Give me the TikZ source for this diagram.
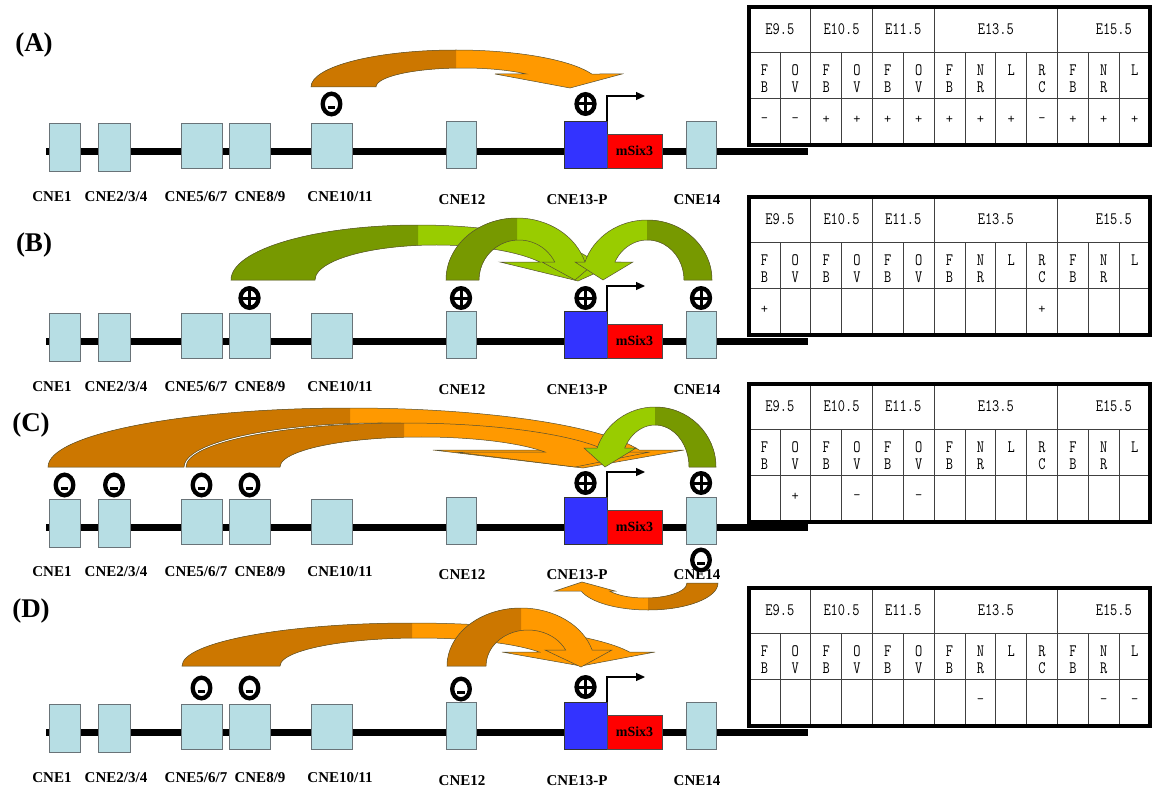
\documentclass[tikz,border=0pt]{standalone}
\usepackage{fontspec}
\usepackage{graphicx}
\setmainfont{Liberation Serif}
\usetikzlibrary{arrows.meta}

\definecolor{cneblue}{RGB}{183,222,228}
\definecolor{cneedge}{RGB}{105,115,120}
\definecolor{promblue}{RGB}{51,51,255}
\definecolor{genered}{RGB}{255,0,0}
\definecolor{brdark}{RGB}{204,119,0}
\definecolor{brlight}{RGB}{255,153,0}
\definecolor{grdark}{RGB}{119,153,0}
\definecolor{grlight}{RGB}{153,204,0}
\definecolor{arrowedge}{RGB}{85,80,50}

\newcommand\tstretch[1]{\scalebox{1}[1.25]{#1}}

\tikzset{
  cnebox/.style={draw=cneedge, fill=cneblue, line width=0.8pt, inner sep=0pt, outer sep=0pt},
  promoter/.style={draw=black!80, fill=promblue, line width=0.6pt, inner sep=0pt, outer sep=0pt},
  gene/.style={draw=black!70, fill=genered, line width=0.6pt, inner sep=0pt, outer sep=0pt,
    font=\bfseries\fontsize{14}{14}\selectfont},
  chrom/.style={line width=7pt},
  cnelabel/.style={font=\bfseries\fontsize{15}{15}\selectfont, inner sep=0pt},
  panel/.style={font=\bfseries\fontsize{27}{27}\selectfont, inner sep=0pt},
  tabtext/.style={font=\ttfamily\fontsize{14}{14}\selectfont, inner sep=0pt},
  tabouter/.style={line width=3.5pt},
  tabinner/.style={line width=0.7pt, draw=black!75},
  tss/.style={line width=1.2pt, -{Triangle[length=9pt,width=8pt]}},
  signring/.style={line width=4.3pt},
  arrowline/.style={draw=arrowedge, line width=0.5pt},
}

% curved block arrow (local frame: base centre at origin, y up, head towards +x)
\pgfkeys{/carr/.cd, a/.store in=\cA, b/.store in=\cB, ci/.store in=\cCi, ai/.store in=\cAi,
  bi/.store in=\cBi, h/.store in=\cH, bl/.store in=\cBl, br/.store in=\cBr,
  tx/.store in=\cTx, ty/.store in=\cTy, split/.store in=\cSp,
  dark/.store in=\cDark, light/.store in=\cLight}
\newcommand\curvedarrow[2]{%
  \begingroup
  \pgfkeys{/carr/.cd, split=0, ty=0, #2}%
  \pgfmathsetmacro\cTo{asin(\cH/\cB)}%
  \pgfmathsetmacro\cTi{asin(\cH/\cBi)}%
  \pgfmathsetmacro\cXo{\cA*cos(\cTo)}%
  \pgfmathsetmacro\cXi{\cCi+\cAi*cos(\cTi)}%
  \def\cShape{(-\cA,0) arc[start angle=180,end angle=\cTo,x radius=\cA,y radius=\cB]
    -- (\cBr,\cH) -- (\cTx,\cTy) -- (\cBl,\cH) -- (\cXi,\cH)
    arc[start angle=\cTi,end angle=180,x radius=\cAi,y radius=\cBi] -- cycle}%
  \begin{scope}[#1]
    \fill[\cLight] \cShape;
    \begin{scope}
      \clip (-\cA-20,-40) rectangle (\cSp,\cB+20);
      \fill[\cDark] \cShape;
    \end{scope}
    \draw[arrowline] \cShape;
  \end{scope}
  \endgroup}

% rectangular element as a named node
\newcommand\elem[7]{%
  \pgfmathsetmacro\elW{(#3)-(#2)}\pgfmathsetmacro\elH{(#5)-(#4)}%
  \pgfmathsetmacro\elX{((#2)+(#3))/2}\pgfmathsetmacro\elY{((#4)+(#5))/2}%
  \node[#6, minimum width=\elW pt, minimum height=\elH pt] (#1) at (\elX,\elY) {#7};}

\newcommand\plussign[2]{%
  \draw[signring] (#1,#2) ellipse[x radius=9, y radius=9.8];
  \draw[line width=3pt] (#1,#2-8.5) -- (#1,#2+8.5) (#1-7.5,#2) -- (#1+7.5,#2);}
\newcommand\minussign[2]{%
  \draw[signring] (#1,#2) ellipse[x radius=8.8, y radius=10.3];
  \draw[line width=3.2pt] (#1-3.8,#2+3.5) -- (#1+3.8,#2+3.5);}

% one genomic locus: #1 prefix, #2 chromosome y, #3 label y
\newcommand\locus[3]{%
  \draw[chrom] (46,#2) -- (808,#2);
  \elem{#1-c1}{49}{80}{#2-28}{#2+20}{cnebox}{}
  \elem{#1-c2}{98}{130}{#2-28}{#2+20}{cnebox}{}
  \elem{#1-c5}{181}{222}{#2-28}{#2+17}{cnebox}{}
  \elem{#1-c8}{229}{270}{#2-28}{#2+17}{cnebox}{}
  \elem{#1-c10}{311}{352}{#2-28}{#2+17}{cnebox}{}
  \elem{#1-c12}{446}{476}{#2-30}{#2+17}{cnebox}{}
  \elem{#1-p}{564}{607}{#2-30}{#2+17}{promoter}{}
  \elem{#1-g}{607}{662}{#2-17}{#2+17}{gene}{mSix3}
  \elem{#1-c14}{686}{716}{#2-30}{#2+17}{cnebox}{}
  \draw[tss] (#1-p.north east) -- ++(0,-25) -- ++(38,0);
  \node[cnelabel] (#1-l1) at (52,#3) {CNE1};
  \node[cnelabel] (#1-l2) at (116,#3) {CNE2/3/4};
  \node[cnelabel] (#1-l5) at (196,#3) {CNE5/6/7};
  \node[cnelabel] (#1-l8) at (260,#3) {CNE8/9};
  \node[cnelabel] (#1-l10) at (340,#3) {CNE10/11};
  \node[cnelabel] (#1-l12) at (462,#3+3) {CNE12};
  \node[cnelabel] (#1-l13) at (577,#3+3) {CNE13-P};
  \node[cnelabel] (#1-l14) at (697,#3+3) {CNE14};
}

% expression table: #1 prefix, #2 top y, #3 list col/value for last row
\newcommand\exprtable[3]{%
  \pgfmathsetmacro\tabA{#2+45}\pgfmathsetmacro\tabB{#2+91}\pgfmathsetmacro\tabC{#2+138}%
  \foreach \i in {1,...,12} {\draw[tabinner] ({749+\i*30.85},\tabA) -- ({749+\i*30.85},\tabC);}
  \foreach \i in {2,4,6,10} {\draw[tabinner] ({749+\i*30.85},#2) -- ({749+\i*30.85},\tabA);}
  \draw[tabinner] (749,\tabA) -- (1150,\tabA) (749,\tabB) -- (1150,\tabB);
  \draw[tabouter] (749,#2) rectangle (1150,\tabC);
  \node[tabtext] (#1-h1) at (779.85,#2+22) {\tstretch{E9.5}};
  \node[tabtext] (#1-h2) at (841.55,#2+22) {\tstretch{E10.5}};
  \node[tabtext] (#1-h3) at (903.25,#2+22) {\tstretch{E11.5}};
  \node[tabtext] (#1-h4) at (995.8,#2+22) {\tstretch{E13.5}};
  \node[tabtext] (#1-h5) at (1113.8,#2+22) {\tstretch{E15.5}};
  \foreach \ta/\tb [count=\i] in {F/B,O/V,F/B,O/V,F/B,O/V,F/B,N/R,L/,R/C,F/B,N/R,L/} {
    \node[tabtext] (#1-t\i) at ({749+(\i-0.5)*30.85},#2+63.5) {\tstretch{\ta}};
    \node[tabtext] (#1-u\i) at ({749+(\i-0.5)*30.85},#2+80.5) {\tstretch{\tb}};
  }
  \foreach \c/\v in {#3} {\node[tabtext] (#1-v\c) at ({749+(\c-0.5)*30.85},#2+113) {\v};}
}

\begin{document}
\begin{tikzpicture}[x=1pt,y=1pt,yscale=-1]
\useasboundingbox[fill=white] (0,0) rectangle (1161,789);

\locus{A}{151}{197}
\locus{B}{341}{387}
\locus{C}{527}{572}
\locus{D}{732}{778}

% ---------- arrows ----------
% A
\curvedarrow{shift={(456,87)},yscale=-1}{a=145,b=37,ci=7,ai=87,bi=19,h=13,bl=39,br=166,tx=114,ty=-1,dark=brdark,light=brlight}
% B
\curvedarrow{shift={(418,280)},yscale=-1}{a=187,b=55,ci=18,ai=121,bi=35,h=18,bl=82,br=202,tx=160,ty=-1,dark=grdark,light=grlight}
\curvedarrow{shift={(517,280)},yscale=-1}{a=71,b=62,ci=2,ai=40,bi=40,h=18,bl=25,br=79,tx=58,ty=0,dark=grdark,light=grlight}
\curvedarrow{shift={(647,280)},xscale=-1,yscale=-1}{a=65,b=60,ci=-0.5,ai=36.5,bi=40,h=18,bl=14,br=72,tx=44,ty=0,dark=grdark,light=grlight}
% C
\curvedarrow{shift={(350,467)},yscale=-1}{a=302,b=59,ci=30,ai=196,bi=44,h=17,bl=83,br=334,tx=233,ty=-1,dark=brdark,light=brlight}
\curvedarrow{shift={(404,467)},yscale=-1}{a=218,b=44,ci=18,ai=142,bi=30,h=15,bl=51,br=246,tx=171,ty=0,dark=brdark,light=brlight}
\curvedarrow{shift={(655,467)},xscale=-1,yscale=-1}{a=61,b=60,ci=0,ai=34,bi=42,h=19,bl=19,br=71,tx=50,ty=0,dark=grdark,light=grlight}
\curvedarrow{shift={(648,583)},xscale=-1}{a=70,b=27,ci=3,ai=42,bi=15,h=8,bl=33,br=93,tx=66,ty=-1,dark=brdark,light=brlight}
% D
\curvedarrow{shift={(412,666)},yscale=-1}{a=230,b=43,ci=7,ai=139,bi=28,h=14,bl=90,br=243,tx=169,ty=0,dark=brdark,light=brlight}
\curvedarrow{shift={(521,666)},yscale=-1}{a=74,b=58,ci=7,ai=42,bi=36,h=16,bl=24,br=91,tx=60,ty=-1,dark=brdark,light=brlight}

% ---------- signs ----------
\minussign{331.5}{104}
\plussign{585.5}{104}

\plussign{249.5}{298}
\plussign{461}{298}
\plussign{585.5}{298}
\plussign{701}{298}

\minussign{64.5}{485}
\minussign{114}{485}
\minussign{201.5}{485}
\minussign{249.5}{485}
\plussign{585.5}{483}
\plussign{701}{483}
\minussign{701}{560}

\minussign{201.5}{688}
\minussign{249.5}{688}
\minussign{461}{689}
\plussign{585.5}{687}

% ---------- panel letters ----------
\node[panel] (pA) at (34,45) {(A)};
\node[panel] (pB) at (34,245) {(B)};
\node[panel] (pC) at (31,425) {(C)};
\node[panel] (pD) at (31,611) {(D)};

% ---------- tables ----------
\exprtable{TA}{7}{1/-,2/-,3/+,4/+,5/+,6/+,7/+,8/+,9/+,10/-,11/+,12/+,13/+}
\exprtable{TB}{197}{1/+,10/+}
\exprtable{TC}{384}{2/+,4/-,6/-}
\exprtable{TD}{588}{8/-,12/-,13/-}
\end{tikzpicture}
\end{document}
